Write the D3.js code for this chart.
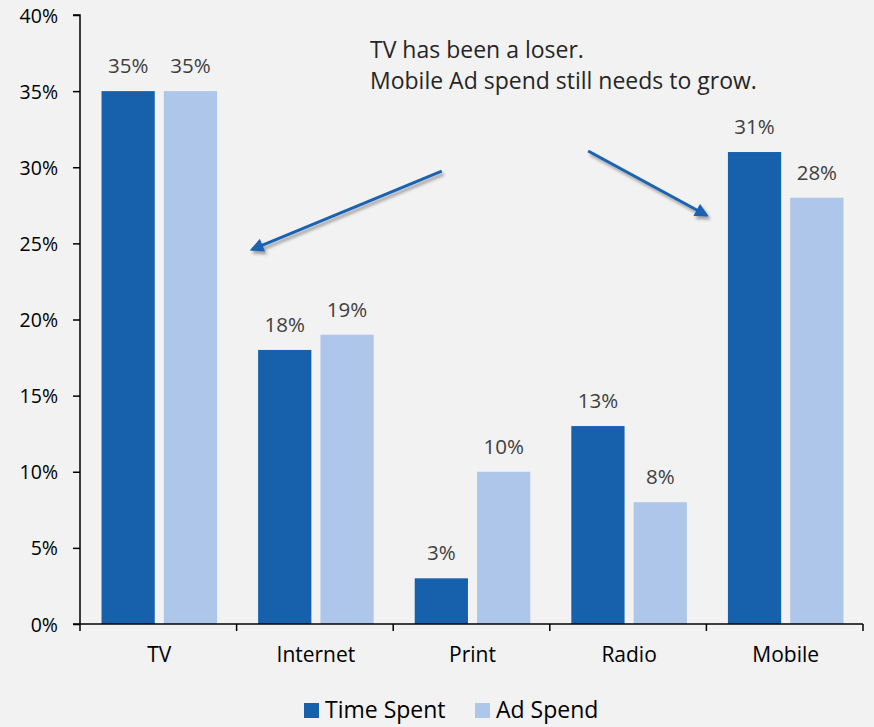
<!DOCTYPE html>
<html>
<head>
<meta charset="utf-8">
<script src="https://cdn.jsdelivr.net/npm/d3@7"></script>
<style>
  html, body { margin: 0; padding: 0; background: #f2f2f2; }
  svg { display: block; }
  text { font-family: "Open Sans", "Noto Sans", sans-serif; }
</style>
</head>
<body>
<div id="chart"></div>
<script>
// Share of time spent vs. ad spend by medium
const categories = ["TV", "Internet", "Print", "Radio", "Mobile"];
const timeSpent = [35, 18, 3, 13, 31];
const adSpend = [35, 19, 10, 8, 28];
const seriesNames = ["Time Spent", "Ad Spend"];
const seriesColors = ["#1660ac", "#aec6e9"];
const yTicks = [0, 5, 10, 15, 20, 25, 30, 35, 40];
const noteLines = ["TV has been a loser.", "Mobile Ad spend still needs to grow."];

const W = 874, H = 727;
const margin = { left: 80, right: 11, top: 15, bottom: 103 };

const svg = d3.select("#chart").append("svg")
  .attr("width", W).attr("height", H);

svg.append("rect").attr("width", W).attr("height", H).attr("fill", "#f2f2f2");

const defs = svg.append("defs");
const shadow = defs.append("filter").attr("id", "shadow")
  .attr("x", "-20%").attr("y", "-20%").attr("width", "140%").attr("height", "160%");
shadow.append("feDropShadow").attr("dx", 2).attr("dy", 3).attr("stdDeviation", 1.6)
  .attr("flood-color", "#000").attr("flood-opacity", 0.35);
defs.append("marker").attr("id", "head")
  .attr("viewBox", "0 0 10 10").attr("refX", 8).attr("refY", 5)
  .attr("markerWidth", 5.5).attr("markerHeight", 4.6).attr("orient", "auto")
  .attr("markerUnits", "strokeWidth")
  .append("path").attr("d", "M0,0 L10,5 L0,10 Z").attr("fill", "#1a62b0");

const x = d3.scaleBand().domain(categories)
  .range([margin.left, W - margin.right]).paddingInner(0).paddingOuter(0);
const y = d3.scaleLinear().domain([0, 40]).range([H - margin.bottom, margin.top]);

const rows = categories.map((c, i) => ({ cat: c, vals: [timeSpent[i], adSpend[i]] }));

const barW = x.bandwidth() * 0.34;
const barGap = x.bandwidth() * 0.058;
const xs = d3.scaleBand().domain([0, 1]).range([0, 2 * barW + barGap]).paddingInner(barGap / (barW + barGap)).paddingOuter(0);
const groupOffset = (x.bandwidth() - (2 * barW + barGap)) / 2 + 1;

const g = svg.selectAll("g.cat").data(rows).join("g")
  .attr("class", "cat")
  .attr("transform", d => `translate(${x(d.cat) + groupOffset},0)`);

g.selectAll("rect").data(d => d.vals.map((v, k) => ({ v, k }))).join("rect")
  .attr("x", d => xs(d.k))
  .attr("width", xs.bandwidth())
  .attr("y", d => y(d.v))
  .attr("height", d => y(0) - y(d.v))
  .attr("fill", d => seriesColors[d.k]);

g.selectAll("text.lbl").data(d => d.vals.map((v, k) => ({ v, k }))).join("text")
  .attr("class", "lbl")
  .attr("x", d => xs(d.k) + xs.bandwidth() / 2)
  .attr("y", d => y(d.v) - 18)
  .attr("text-anchor", "middle")
  .attr("font-size", 20.5)
  .attr("fill", "#404040")
  .text(d => d.v + "%");

// Y axis
const yAxis = svg.append("g").attr("transform", `translate(${margin.left},0)`)
  .call(d3.axisLeft(y).tickValues(yTicks).tickFormat(d => d + "%").tickSize(7).tickPadding(15));
yAxis.select(".domain").attr("stroke", "#000").attr("stroke-width", 1.5).attr("d", `M-7,${y(40)}H0V${y(0)}`);
yAxis.selectAll(".tick line").attr("stroke", "#000").attr("stroke-width", 1.5);
yAxis.selectAll(".tick text").attr("font-size", 19.5).attr("fill", "#000")
  .attr("dy", "0.36em")
  .style("font-family", "'Open Sans', sans-serif");

// X axis with ticks at category boundaries
const xAxisG = svg.append("g").attr("transform", `translate(0,${y(0)})`);
xAxisG.append("line").attr("x1", margin.left - 7).attr("x2", W - margin.right)
  .attr("stroke", "#000").attr("stroke-width", 1.5);
const bounds = categories.map(c => x(c)).concat([x(categories[categories.length - 1]) + x.bandwidth()]);
xAxisG.selectAll("line.tk").data(bounds).join("line").attr("class", "tk")
  .attr("x1", d => d).attr("x2", d => d).attr("y1", 0).attr("y2", 7)
  .attr("stroke", "#000").attr("stroke-width", 1.5);
xAxisG.selectAll("text").data(categories).join("text")
  .attr("x", d => x(d) + x.bandwidth() / 2 + 1)
  .attr("y", 38)
  .attr("text-anchor", "middle")
  .attr("font-size", 21)
  .attr("fill", "#000")
  .text(d => d);

// Legend
const legend = svg.append("g").attr("transform", "translate(0,718)");
const legendItems = [{ x: 304, name: seriesNames[0], c: seriesColors[0] }, { x: 475, name: seriesNames[1], c: seriesColors[1] }];
legend.selectAll("rect").data(legendItems).join("rect")
  .attr("x", d => d.x).attr("y", -15).attr("width", 15).attr("height", 15).attr("fill", d => d.c);
legend.selectAll("text").data(legendItems).join("text")
  .attr("x", d => d.x + 21).attr("y", 0)
  .attr("font-size", 23).attr("fill", "#000")
  .text(d => d.name);

// Annotation
svg.append("text").attr("x", 370).attr("y", 58).attr("font-size", 23).attr("fill", "#262626").text(noteLines[0]);
svg.append("text").attr("x", 370).attr("y", 89).attr("font-size", 23).attr("fill", "#262626").text(noteLines[1]);

const arrows = [
  { from: ["Print", 0.31, 29.75], to: ["TV", 1.10, 24.6] },
  { from: ["Radio", 0.245, 31.07], to: ["Mobile", 0.0, 26.85] }
];
svg.selectAll("line.arrow").data(arrows).join("line").attr("class", "arrow")
  .attr("x1", d => x(d.from[0]) + d.from[1] * x.bandwidth())
  .attr("y1", d => y(d.from[2]))
  .attr("x2", d => x(d.to[0]) + d.to[1] * x.bandwidth())
  .attr("y2", d => y(d.to[2]))
  .attr("stroke", "#1a62b0").attr("stroke-width", 3)
  .attr("marker-end", "url(#head)")
  .attr("filter", "url(#shadow)");
</script>
</body>
</html>
